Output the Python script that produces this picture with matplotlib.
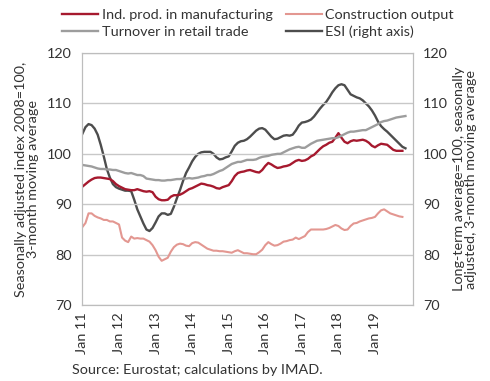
import matplotlib.pyplot as plt
import numpy as np

plt.rcParams['font.family'] = ['Lato', 'DejaVu Sans']

# monthly values, Jan 2011 onwards
ind_prod = [93.5, 94.0, 94.5, 94.9, 95.2, 95.3, 95.3, 95.2, 95.1, 95.0, 94.6, 94.0,
            93.6, 93.3, 93.0, 92.9, 92.8, 92.8, 93.0, 92.8, 92.6, 92.5, 92.6, 92.4,
            91.5, 91.0, 90.8, 90.8, 90.9, 91.5, 91.8, 91.8, 91.9, 92.2, 92.6, 93.0,
            93.2, 93.5, 93.8, 94.1, 94.0, 93.8, 93.7, 93.5, 93.2, 93.1, 93.4, 93.6,
            93.8, 94.6, 95.6, 96.2, 96.4, 96.5, 96.7, 96.8, 96.6, 96.4, 96.3, 96.8,
            97.6, 98.2, 97.9, 97.5, 97.2, 97.3, 97.5, 97.6, 97.8, 98.2, 98.6, 98.8,
            98.6, 98.7, 99.0, 99.5, 99.8, 100.4, 101.0, 101.5, 101.8, 102.2, 102.4, 103.2,
            104.1, 103.2, 102.4, 102.1, 102.5, 102.7, 102.6, 102.7, 102.8, 102.6, 102.2, 101.6,
            101.3, 101.7, 102.0, 101.9, 101.8, 101.3, 100.8, 100.6, 100.6, 100.6]

construction = [85.5, 86.3, 88.2, 88.2, 87.7, 87.4, 87.2, 86.9, 86.9, 86.6, 86.6, 86.3,
                86.0, 83.4, 82.8, 82.5, 83.6, 83.2, 83.3, 83.2, 83.2, 82.9, 82.6, 81.9,
                80.9, 79.6, 78.8, 79.1, 79.4, 80.6, 81.5, 82.0, 82.2, 82.1, 81.8, 81.7,
                82.3, 82.5, 82.4, 82.0, 81.6, 81.2, 81.0, 80.8, 80.8, 80.7, 80.7, 80.6,
                80.5, 80.4, 80.7, 80.9, 80.6, 80.3, 80.3, 80.2, 80.1, 80.1, 80.5, 81.0,
                81.9, 82.5, 82.1, 81.8, 81.9, 82.2, 82.6, 82.7, 82.9, 83.0, 83.4, 83.1,
                83.4, 83.7, 84.5, 85.0, 85.0, 85.0, 85.0, 85.0, 85.1, 85.3, 85.6, 85.9,
                85.7, 85.2, 84.9, 85.0, 85.7, 86.2, 86.3, 86.6, 86.8, 87.0, 87.2, 87.3,
                87.5, 88.2, 88.8, 89.0, 88.6, 88.2, 88.0, 87.8, 87.6, 87.5]

retail = [97.8, 97.7, 97.6, 97.5, 97.3, 97.1, 97.0, 97.0, 96.9, 96.9, 96.8, 96.8,
          96.6, 96.4, 96.2, 96.1, 96.2, 96.0, 95.8, 95.8, 95.6, 95.1, 95.0, 94.9,
          94.8, 94.8, 94.7, 94.7, 94.8, 94.8, 94.9, 95.0, 95.0, 95.1, 95.1, 95.2,
          95.1, 95.2, 95.3, 95.5, 95.6, 95.8, 95.8, 96.0, 96.3, 96.6, 96.8, 97.2,
          97.6, 98.0, 98.2, 98.4, 98.4, 98.6, 98.8, 98.8, 98.8, 98.9, 99.2, 99.4,
          99.5, 99.6, 99.8, 99.9, 100.0, 100.0, 100.3, 100.6, 100.9, 101.1, 101.3, 101.4,
          101.2, 101.2, 101.6, 102.0, 102.3, 102.6, 102.7, 102.8, 102.9, 103.0, 103.1, 103.1,
          103.3, 103.6, 103.9, 104.2, 104.4, 104.4, 104.5, 104.6, 104.7, 104.7, 105.0, 105.3,
          105.6, 105.9, 106.3, 106.5, 106.6, 106.8, 107.0, 107.2, 107.3, 107.4, 107.5]

esi = [104.0, 105.3, 105.9, 105.7, 105.0, 103.8, 101.8, 99.5, 97.0, 95.3, 94.0, 93.4,
       93.1, 92.9, 92.7, 92.7, 92.6, 90.9, 89.0, 87.6, 86.2, 85.0, 84.7, 85.3,
       86.4, 87.6, 88.2, 88.2, 87.9, 88.1, 89.5, 91.2, 92.8, 94.6, 96.2, 97.3,
       98.5, 99.4, 100.0, 100.3, 100.4, 100.4, 100.4, 100.0, 99.3, 98.9, 99.0, 99.3,
       99.5, 100.5, 101.6, 102.2, 102.5, 102.6, 102.9, 103.4, 104.0, 104.6, 105.0, 105.1,
       104.8, 104.1, 103.4, 102.9, 103.0, 103.3, 103.6, 103.7, 103.6, 103.8, 104.6, 105.6,
       106.2, 106.3, 106.5, 106.8, 107.4, 108.2, 109.0, 109.7, 110.3, 111.2, 112.2, 113.0,
       113.6, 113.8, 113.6, 112.7, 111.8, 111.5, 111.2, 111.0, 110.6, 110.0, 109.4, 108.6,
       107.6, 106.4, 105.5, 104.9, 104.4, 103.8, 103.2, 102.6, 102.0, 101.4, 101.1]

tick_labels = ['Jan 11', 'Jan 12', 'Jan 13', 'Jan 14', 'Jan 15',
               'Jan 16', 'Jan 17', 'Jan 18', 'Jan 19']

text_col = '#333333'
grid_col = '#c8c8c8'
fs = 10.4

fig = plt.figure(figsize=(4.9, 3.81), dpi=100)
ax = fig.add_axes([0.167, 0.199, 0.676, 0.662])
ax2 = ax.twinx()

l1, = ax.plot(np.arange(len(ind_prod)), ind_prod, color='#a6192e', lw=1.7)
l2, = ax.plot(np.arange(len(construction)), construction, color='#e39791', lw=1.5)
l3, = ax.plot(np.arange(len(retail)), retail, color='#9d9d9d', lw=1.7)
l4, = ax2.plot(np.arange(len(esi)), esi, color='#4d4d4d', lw=1.7)

for a in (ax, ax2):
    a.set_ylim(70, 120)
    a.set_yticks(range(70, 121, 10))
    a.set_xlim(-0.2, 108.5)
    a.tick_params(length=0, labelsize=fs, colors=text_col, pad=7)
    for s in a.spines.values():
        s.set_color('#bdbdbd')
ax.set_zorder(ax2.get_zorder() + 1)
ax.patch.set_visible(False)
ax.grid(axis='y', color=grid_col, lw=1)
ax.set_axisbelow(True)

ax.set_xticks(range(0, 97, 12))
ax.set_xticklabels(tick_labels, rotation=90)
ax.tick_params(axis='x', pad=5)

ax.set_ylabel('Seasonally adjusted index 2008=100,\n3-month moving average',
              fontsize=fs, color=text_col, labelpad=6, linespacing=1.0)
ax2.set_ylabel('Long-term average=100, seasonally\nadjusted, 3-month moving average',
               fontsize=fs, color=text_col, rotation=90, labelpad=4, linespacing=1.0)
ax2.yaxis.set_label_position('right')

fig.legend([l1, l3, l2, l4],
           ['Ind. prod. in manufacturing', 'Turnover in retail trade',
            'Construction output', 'ESI (right axis)'],
           ncol=2, loc='upper left', bbox_to_anchor=(0.1, 1.01), frameon=False,
           fontsize=fs, handlelength=2.5, handletextpad=0.25, columnspacing=0.9,
           labelspacing=0.3, labelcolor=text_col)

fig.text(0.147, 0.018, 'Source: Eurostat; calculations by IMAD.', fontsize=fs, color=text_col)

fig.savefig('out.png', dpi=100)
